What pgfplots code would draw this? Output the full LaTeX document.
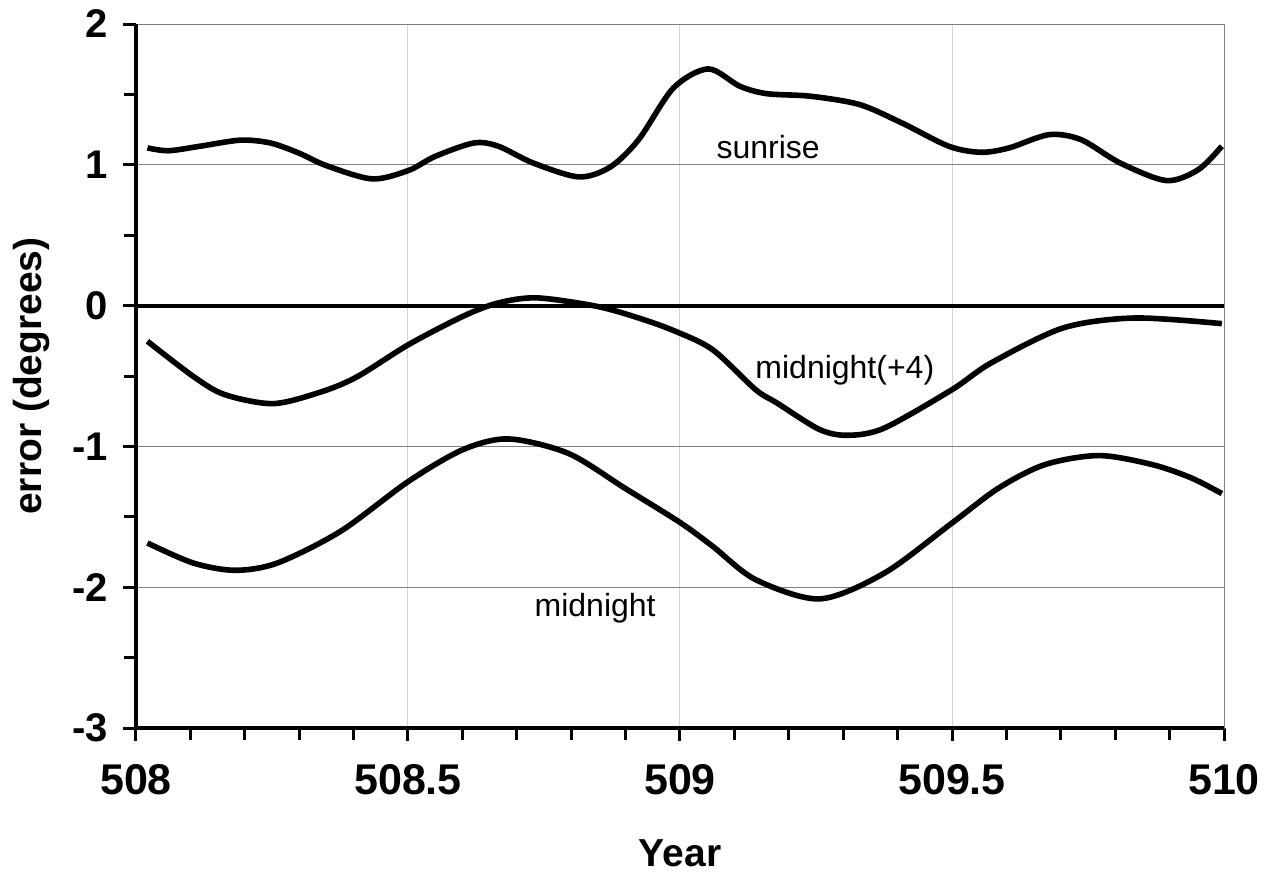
\documentclass[border=0pt]{standalone}
\usepackage{fontspec}
\setmainfont{Liberation Sans}
\usepackage{pgfplots}
\pgfplotsset{compat=1.18}

\pgfplotstableread{
x y
508.021 1.12
508.060 1.10
508.118 1.132
508.192 1.175
508.247 1.155
508.299 1.084
508.350 0.994
508.434 0.900
508.501 0.960
508.550 1.060
508.621 1.155
508.666 1.132
508.730 1.013
508.814 0.914
508.872 0.985
508.924 1.179
508.988 1.546
509.052 1.681
509.110 1.558
509.160 1.505
509.240 1.487
509.330 1.428
509.408 1.297
509.494 1.132
509.553 1.089
509.605 1.12
509.678 1.214
509.737 1.179
509.809 1.013
509.894 0.888
509.953 0.966
509.996 1.132
}\sunrise

\pgfplotstableread{
x y
508.021 -0.253
508.105 -0.502
508.163 -0.632
508.253 -0.696
508.344 -0.608
508.408 -0.502
508.501 -0.277
508.601 -0.076
508.666 0.019
508.737 0.055
508.847 -0.005
508.924 -0.088
508.990 -0.18
509.060 -0.313
509.139 -0.597
509.178 -0.691
509.257 -0.881
509.310 -0.921
509.376 -0.869
509.500 -0.597
509.572 -0.407
509.704 -0.159
509.835 -0.088
509.996 -0.128
}\midfour

\pgfplotstableread{
x y
508.021 -1.686
508.105 -1.828
508.182 -1.880
508.260 -1.828
508.376 -1.603
508.501 -1.248
508.601 -1.023
508.685 -0.947
508.795 -1.050
508.900 -1.300
509.000 -1.540
509.060 -1.709
509.139 -1.946
509.257 -2.083
509.376 -1.899
509.500 -1.544
509.586 -1.295
509.671 -1.129
509.770 -1.065
509.868 -1.129
509.940 -1.224
509.996 -1.335
}\midnight

\begin{document}
\begin{tikzpicture}
\useasboundingbox (-68pt,-73.5pt) rectangle (564.5pt,364pt);
\begin{axis}[
  at={(0,0)}, anchor=south west,
  scale only axis, width=544pt, height=352pt,
  xmin=508, xmax=510, ymin=-3, ymax=2,
  xtick={508,508.5,509,509.5,510},
  xticklabels={508,508.5,509,509.5,510},
  minor xtick={508.1,508.2,508.3,508.4,508.6,508.7,508.8,508.9,509.1,509.2,509.3,509.4,509.6,509.7,509.8,509.9},
  ytick={-3,-2,-1,0,1,2},
  yticklabels={-3,-2,-1,0,1,2},
  minor ytick={-2.5,-1.5,-0.5,0.5,1.5},
  tick align=outside, xtick pos=bottom, ytick pos=left,
  major tick length=6.5pt, minor tick length=6pt,
  every tick/.style={black, line width=1.5pt},
  xmajorgrids, ymajorgrids,
  major x grid style={draw=gray!35, line width=0.5pt},
  major y grid style={draw=gray, line width=0.5pt},
  axis line style={draw=gray, line width=0.5pt},
  xticklabel style={font=\fontsize{21.5}{25}\selectfont\bfseries, anchor=north, yshift=-8pt},
  yticklabel style={font=\fontsize{20}{24}\selectfont\bfseries, anchor=east, xshift=-4pt},
  xlabel={Year},
  ylabel={error (degrees)},
  xlabel style={font=\fontsize{19.5}{23}\selectfont\bfseries, at={(axis description cs:0.5,-0.1776)}, anchor=center},
  ylabel style={font=\fontsize{19.5}{23}\selectfont\bfseries, at={(axis description cs:-0.0956,0.5)}, anchor=center},
  clip=false,
]
\draw[black, line width=2pt] (axis cs:508,0) -- (axis cs:510,0);
\addplot[black, line width=2.8pt, smooth] table[x=x,y=y] {\sunrise};
\addplot[black, line width=2.8pt, smooth] table[x=x,y=y] {\midfour};
\addplot[black, line width=2.8pt, smooth] table[x=x,y=y] {\midnight};
\draw[black, line width=2pt] (rel axis cs:0,1) -- (rel axis cs:0,0) -- (rel axis cs:1,0);
\node[font=\fontsize{16}{19}\selectfont] at (axis cs:509.162,1.126) {sunrise};
\node[font=\fontsize{16}{19}\selectfont] at (axis cs:509.303,-0.462) {midnight(+4)};
\node[font=\fontsize{16}{19}\selectfont] at (axis cs:508.844,-2.15) {midnight};
\end{axis}
\end{tikzpicture}
\end{document}
